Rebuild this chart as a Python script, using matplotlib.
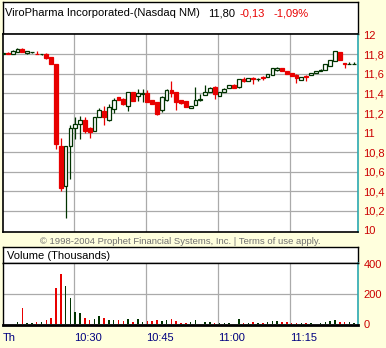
import matplotlib
matplotlib.use('Agg')
import matplotlib.pyplot as plt
import numpy as np

W, H = 386, 348
BG = '#FFFFDD'
RED = '#E80000'
GREEN = '#003300'
GRID = '#AAAAAA'
LABEL_RED = '#CC0000'
NAVY = '#000080'
TEAL = '#2AA8B0'

title_name = "ViroPharma Incorporated-(Nasdaq NM)"
last_price = "11,80"
change = "-0,13"
change_pct = "-1,09%"
copyright_text = "\u00a9 1998-2004 Prophet Financial Systems, Inc. | Terms of use apply."
volume_title = "Volume (Thousands)"

start_minute = 15  # first bar is 10:15 (minutes after 10:00)

opens = [11.81, 11.82, 11.81, 11.83, 11.86, 11.82, 11.825, 11.81, 11.80, 11.80,
         11.77, 11.70, 10.86, 10.45, 10.86, 11.05, 11.09, 11.13, 11.05, 11.02,
         11.16, 11.22, 11.13, 11.24, 11.36, 11.34, 11.27, 11.42, 11.37, 11.39,
         11.41, 11.33, 11.31, 11.23, 11.33, 11.44, 11.42, 11.33, 11.32, 11.25,
         11.28, 11.33, 11.38, 11.42, 11.47, 11.37, 11.42, 11.46, 11.49, 11.47,
         11.55, 11.53, 11.56, 11.545, 11.57, 11.57, 11.59, 11.645, 11.66, 11.63,
         11.61, 11.59, 11.54, 11.58, 11.585, 11.61, 11.63, 11.64, 11.68, 11.73,
         11.83, 11.71, 11.70, 11.70]
highs = [11.82, 11.825, 11.845, 11.865, 11.865, 11.835, 11.83, 11.835, 11.805, 11.815,
         11.77, 11.70, 10.94, 10.86, 11.08, 11.16, 11.17, 11.16, 11.06, 11.16,
         11.25, 11.27, 11.29, 11.355, 11.365, 11.35, 11.42, 11.42, 11.45, 11.45,
         11.44, 11.335, 11.315, 11.37, 11.45, 11.53, 11.42, 11.335, 11.325, 11.275,
         11.47, 11.39, 11.49, 11.47, 11.48, 11.42, 11.46, 11.49, 11.495, 11.55,
         11.57, 11.56, 11.565, 11.56, 11.575, 11.60, 11.66, 11.67, 11.665, 11.63,
         11.615, 11.595, 11.57, 11.585, 11.61, 11.63, 11.655, 11.70, 11.74, 11.84,
         11.83, 11.71, 11.72, 11.72]
lows = [11.80, 11.80, 11.81, 11.83, 11.83, 11.80, 11.815, 11.80, 11.795, 11.755,
        11.70, 10.83, 10.40, 10.12, 10.52, 10.93, 10.93, 11.00, 10.94, 11.02,
        11.16, 11.075, 11.115, 11.20, 11.33, 11.285, 11.22, 11.32, 11.32, 11.31,
        11.31, 11.29, 11.18, 11.21, 11.32, 11.36, 11.23, 11.29, 11.26, 11.25,
        11.28, 11.32, 11.38, 11.42, 11.34, 11.37, 11.42, 11.46, 11.46, 11.46,
        11.52, 11.53, 11.50, 11.53, 11.54, 11.57, 11.59, 11.63, 11.63, 11.60,
        11.58, 11.51, 11.54, 11.53, 11.585, 11.61, 11.63, 11.64, 11.68, 11.73,
        11.74, 11.66, 11.70, 11.70]
closes = [11.815, 11.80, 11.84, 11.86, 11.83, 11.835, 11.825, 11.80, 11.80, 11.76,
          11.70, 10.88, 10.43, 10.86, 11.05, 11.09, 11.13, 11.02, 11.01, 11.16,
          11.23, 11.16, 11.26, 11.33, 11.33, 11.29, 11.42, 11.32, 11.40, 11.40,
          11.31, 11.29, 11.19, 11.36, 11.44, 11.41, 11.31, 11.30, 11.26, 11.27,
          11.33, 11.345, 11.42, 11.46, 11.39, 11.42, 11.45, 11.49, 11.46, 11.55,
          11.53, 11.56, 11.545, 11.55, 11.555, 11.60, 11.66, 11.66, 11.63, 11.60,
          11.58, 11.56, 11.57, 11.57, 11.61, 11.63, 11.645, 11.70, 11.74, 11.84,
          11.74, 11.70, 11.70, 11.70]
volumes = [4, 5, 5, 15, 109, 9, 8, 13, 15, 27,
           42, 242, 333, 253, 178, 80, 76, 42, 27, 36,
           53, 42, 27, 27, 27, 22, 33, 15, 33, 15,
           22, 22, 29, 22, 27, 33, 20, 9, 9, 15,
           27, 5, 15, 13, 11, 9, 11, 9, 5, 33,
           7, 11, 13, 7, 9, 13, 24, 20, 13, 13,
           7, 9, 11, 7, 11, 5, 7, 13, 20, 27,
           18, 13, 13, 11]

price_ticks = [10.0, 10.2, 10.4, 10.6, 10.8, 11.0, 11.2, 11.4, 11.6, 11.8, 12.0]
price_tick_labels = ['10', '10,2', '10,4', '10,6', '10,8', '11', '11,2', '11,4', '11,6', '11,8', '12']
volume_ticks = [0, 200, 400]
volume_tick_labels = ['0', '200', '400']
time_ticks = [30, 45, 60, 75]  # minutes after 10:00
time_labels = ['10:30', '10:45', '11:00', '11:15']
day_label = 'Th'

FONT = 'Liberation Sans'
plt.rcParams['font.family'] = [FONT, 'DejaVu Sans']


def rect(x0, y0, x1, y1):
    return [x0 / W, 1 - y1 / H, (x1 - x0) / W, (y1 - y0) / H]


def fx(px):
    return px / W


def fy(py):
    return 1 - py / H


o = np.array(opens)
h = np.array(highs)
l = np.array(lows)
c = np.array(closes)
v = np.array(volumes)
x = np.arange(len(o)) + start_minute + 0.25
up = c >= o
cols = np.where(up, GREEN, RED)

x_left = 30 - 71 / 4.81
x_right = 30 + 284 / 4.81

fig = plt.figure(figsize=(W / 100, H / 100), dpi=100, facecolor=BG)

# ---- header box
hdr = fig.add_axes(rect(3, 2, 358, 34))
hdr.set_facecolor('white')
hdr.set_xticks([]); hdr.set_yticks([])
for s in hdr.spines.values():
    s.set_color('black'); s.set_linewidth(1.0)
fig.text(fx(5), fy(13), title_name, fontsize=8, color='black', va='center', ha='left')
fig.text(fx(208), fy(13), last_price, fontsize=8, color='black', va='center', ha='left')
fig.text(fx(239), fy(13), change, fontsize=8, color=RED, va='center', ha='left')
fig.text(fx(273), fy(13), change_pct, fontsize=8, color=RED, va='center', ha='left')

# ---- price panel
ax = fig.add_axes(rect(3, 34, 358, 232))
ax.set_facecolor('white')
ax.set_xlim(x_left, x_right)
ax.set_ylim(9.98, 12.01)
for p in price_ticks[1:-1]:
    ax.axhline(p, color=GRID, lw=0.9, zorder=0)
for t in time_ticks:
    ax.axvline(t, color=GRID, lw=0.9, zorder=0)
ax.vlines(x, l, h, colors=cols, lw=0.9, zorder=2)
body_bottom = np.minimum(o, c)
body_h = np.abs(c - o)
ax.bar(x[up], body_h[up], bottom=body_bottom[up], width=0.78,
       facecolor='white', edgecolor=GREEN, linewidth=0.9, zorder=3)
ax.bar(x[~up], body_h[~up], bottom=body_bottom[~up], width=0.78,
       facecolor=RED, edgecolor=RED, linewidth=0.9, zorder=3)
ax.yaxis.tick_right()
ax.set_yticks(price_ticks)
ax.set_yticklabels(price_tick_labels)
ax.tick_params(axis='y', length=0, pad=4, labelsize=8, labelcolor=LABEL_RED)
ax.set_xticks([])
for k in ['left', 'top', 'bottom']:
    ax.spines[k].set_color('black'); ax.spines[k].set_linewidth(1.2)
ax.spines['right'].set_color(TEAL); ax.spines['right'].set_linewidth(1.2)

fig.text(fx(180), fy(241), copyright_text, fontsize=6.8, color='#707070', va='center', ha='center')

# ---- volume header
vh = fig.add_axes(rect(3, 247, 358, 263))
vh.set_facecolor('white')
vh.set_xticks([]); vh.set_yticks([])
for s in vh.spines.values():
    s.set_color('black'); s.set_linewidth(1.0)
fig.text(fx(7), fy(256), volume_title, fontsize=8, color='black', va='center', ha='left')

# ---- volume panel
axv = fig.add_axes(rect(3, 263, 358, 325))
axv.set_facecolor('white')
axv.set_xlim(x_left, x_right)
axv.set_ylim(-5, 409)
axv.axhline(200, color=GRID, lw=0.9, zorder=0)
for t in time_ticks:
    axv.axvline(t, color=GRID, lw=0.9, zorder=0)
axv.bar(x, v, width=0.32, color=cols, zorder=2)
axv.yaxis.tick_right()
axv.set_yticks(volume_ticks)
axv.set_yticklabels(volume_tick_labels)
axv.tick_params(axis='y', length=0, pad=4, labelsize=8, labelcolor=LABEL_RED)
axv.set_xticks([x_left] + time_ticks)
axv.set_xticklabels([day_label] + time_labels)
axv.tick_params(axis='x', length=0, pad=6, labelsize=8, labelcolor=NAVY)
for lab in axv.get_xticklabels():
    lab.set_horizontalalignment('left')
for k in ['left', 'top']:
    axv.spines[k].set_color('black'); axv.spines[k].set_linewidth(1.0)
axv.spines['bottom'].set_color('black'); axv.spines['bottom'].set_linewidth(2.0)
axv.spines['right'].set_color(TEAL); axv.spines['right'].set_linewidth(1.2)

fig.savefig('out.png', dpi=100, facecolor=BG)
